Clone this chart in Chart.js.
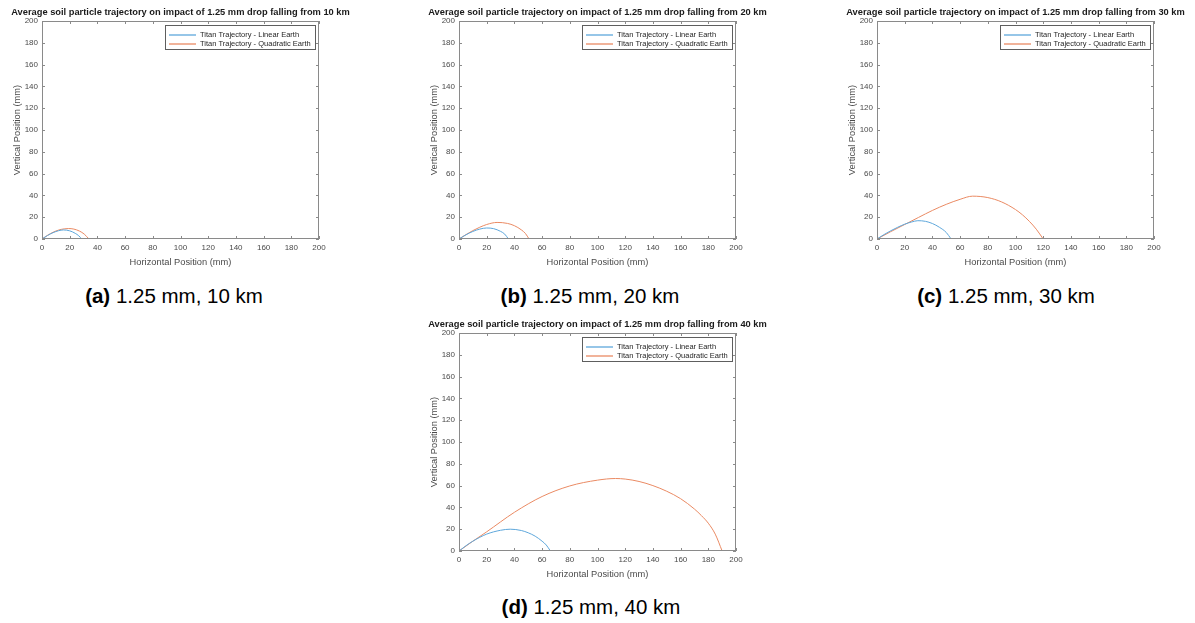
<!DOCTYPE html>
<html>
<head>
<meta charset="utf-8">
<script src="https://cdn.jsdelivr.net/npm/chart.js@4.4.1/dist/chart.umd.min.js"></script>
<style>
  html, body { margin: 0; padding: 0; background: #fff; overflow: hidden; }
  body { width: 1195px; height: 623px; position: relative; font-family: "Liberation Sans", Arial, sans-serif; }
  canvas { position: absolute; }
  .caption { position: absolute; font-size: 20.5px; line-height: 1; color: #000; white-space: nowrap; transform: translate(-50%, -50%); }
</style>
</head>
<body>
<canvas id="p10" width="361" height="275" style="left:0px;top:0px"></canvas>
<canvas id="p20" width="361" height="275" style="left:417px;top:0px"></canvas>
<canvas id="p30" width="361" height="275" style="left:835px;top:0px"></canvas>
<canvas id="p40" width="361" height="275" style="left:417px;top:312px"></canvas>
<div class="caption" style="left:174px;top:296px"><b>(a)</b> 1.25 mm, 10 km</div>
<div class="caption" style="left:590px;top:296px"><b>(b)</b> 1.25 mm, 20 km</div>
<div class="caption" style="left:1006px;top:296px"><b>(c)</b> 1.25 mm, 30 km</div>
<div class="caption" style="left:591px;top:607px"><b>(d)</b> 1.25 mm, 40 km</div>
<script>
// trajectories in mm, one pair of arrays per drop height
const linX10 = [0, 4, 8, 12, 15.5, 20, 24, 26.5, 28.7];
const linY10 = [0, 3.2, 5.8, 7.6, 8.3, 7.5, 5.2, 3, 0];
const quadX10 = [0, 4, 8, 12, 16, 19, 23, 27, 30.5, 33.9];
const quadY10 = [0, 3.4, 6.2, 8.2, 9.3, 9.6, 9.1, 7.3, 4.5, 0];

const linX20 = [0, 5, 10, 15, 20, 25, 30, 33, 35.7];
const linY20 = [0, 3.8, 6.9, 9.1, 10.1, 9.5, 7, 4.5, 0];
const quadX20 = [0, 5, 10, 15, 20, 27.5, 35, 40, 45, 48, 50.6];
const quadY20 = [0, 4, 7.7, 10.8, 13.3, 15.2, 14.3, 12.2, 8.4, 5, 0];

const linX30 = [0, 5, 10, 15, 20, 25, 29.5, 35, 40, 45, 50, 53.5];
const linY30 = [0, 4, 7.6, 10.8, 13.6, 15.6, 16.8, 16.2, 14.2, 10.8, 6, 0];
const quadX30 = [0, 10, 20, 30, 40, 50, 60, 69, 80, 90, 100, 105, 110, 115, 120];
const quadY30 = [0, 6.8, 13.3, 19.8, 26.2, 31.8, 36.4, 39.3, 38, 34, 27, 22.2, 16.2, 9, 0];

const linX40 = [0, 5, 10, 20, 30, 37, 45, 50, 55, 60, 63, 66];
const linY40 = [0, 4.8, 9, 15.5, 19, 20, 18.8, 16.7, 13.6, 9, 5.5, 0];
const quadX40 = [0, 10, 20, 40, 60, 80, 100, 113, 120, 130, 140, 150, 160, 170, 175, 180, 185, 190];
const quadY40 = [0, 9, 17.6, 35.5, 50, 59.7, 65, 66.5, 66, 63.8, 60, 54.8, 48, 38.5, 32.5, 25.5, 15.5, 0];

const seriesNames = ["Titan Trajectory - Linear Earth", "Titan Trajectory - Quadratic Earth"];
const seriesColors = ["#5ea7db", "#ea8a63"];
const axisTicks = [0, 20, 40, 60, 80, 100, 120, 140, 160, 180, 200];

const FONT = "'Liberation Sans', Arial, sans-serif";

function pairs(xs, ys) {
  return xs.map((x, i) => ({ x: x, y: ys[i] }));
}

// box, inward ticks, title and in-axes legend, drawn like a MATLAB figure
const matlabAxes = {
  id: "matlabAxes",
  afterDraw(chart, args, opts) {
    const { ctx, chartArea: a, scales } = chart;
    ctx.save();
    ctx.strokeStyle = "#8a8a8a";
    ctx.lineWidth = 1;
    ctx.strokeRect(a.left + 0.5, a.top + 0.5, a.right - a.left - 1, a.bottom - a.top - 1);

    ctx.beginPath();
    scales.x.ticks.forEach((t) => {
      const px = Math.round(scales.x.getPixelForValue(t.value)) + 0.5;
      ctx.moveTo(px, a.bottom); ctx.lineTo(px, a.bottom - 3);
      ctx.moveTo(px, a.top); ctx.lineTo(px, a.top + 3);
    });
    scales.y.ticks.forEach((t) => {
      const py = Math.round(scales.y.getPixelForValue(t.value)) + 0.5;
      ctx.moveTo(a.left, py); ctx.lineTo(a.left + 3, py);
      ctx.moveTo(a.right, py); ctx.lineTo(a.right - 3, py);
    });
    ctx.stroke();

    // title centred on the axes
    ctx.fillStyle = "#1a1a1a";
    ctx.font = "bold 9.3px " + FONT;
    ctx.textAlign = "center";
    ctx.textBaseline = "middle";
    ctx.fillText(opts.text, (a.left + a.right) / 2, 12);

    // legend in the north-east corner
    ctx.font = "7.5px " + FONT;
    const textW = Math.max(...chart.data.datasets.map((d) => ctx.measureText(d.label).width));
    const w = Math.round(35 + textW + 4);
    const h = 24;
    const bx = a.right - 4 - w;
    const by = a.top + 4;
    ctx.fillStyle = "#fff";
    ctx.fillRect(bx, by, w, h);
    ctx.strokeStyle = "#5e5e5e";
    ctx.strokeRect(bx + 0.5, by + 0.5, w, h);
    ctx.textAlign = "left";
    chart.data.datasets.forEach((d, i) => {
      const ry = by + 10 + i * 9;
      ctx.strokeStyle = d.borderColor;
      ctx.lineWidth = 1.3;
      ctx.beginPath();
      ctx.moveTo(bx + 4, ry); ctx.lineTo(bx + 31, ry);
      ctx.stroke();
      ctx.fillStyle = "#262626";
      ctx.fillText(d.label, bx + 35, ry);
    });
    ctx.restore();
  },
};

function trajectoryChart(id, km, lin, quad) {
  const config = {
    type: "scatter",
    data: {
      datasets: [
        { label: seriesNames[0], data: pairs(lin[0], lin[1]), borderColor: seriesColors[0] },
        { label: seriesNames[1], data: pairs(quad[0], quad[1]), borderColor: seriesColors[1] },
      ],
    },
    options: {
      responsive: false,
      animation: false,
      showLine: true,
      cubicInterpolationMode: "monotone",
      elements: {
        point: { radius: 0, hoverRadius: 0 },
        line: { borderWidth: 1, fill: false },
      },
      layout: { padding: { top: 21, right: 42, left: 0, bottom: 0 } },
      plugins: {
        legend: { display: false },
        title: { display: false },
        tooltip: { enabled: false },
        matlabAxes: { text: "Average soil particle trajectory on impact of 1.25 mm drop falling from " + km + " km" },
      },
      scales: {
        x: {
          type: "linear",
          min: 0,
          max: 200,
          afterFit: (s) => { s.height = 36; },
          afterBuildTicks: (s) => { s.ticks = axisTicks.map((v) => ({ value: v })); },
          grid: { display: false, drawTicks: false },
          border: { display: false },
          ticks: { padding: 4, color: "#4a4a4a", font: { family: FONT, size: 8 } },
          title: {
            display: true,
            text: "Horizontal Position (mm)",
            color: "#4a4a4a",
            font: { family: FONT, size: 9.3 },
            padding: { top: 0, bottom: 7.4 },
          },
        },
        y: {
          type: "linear",
          min: 0,
          max: 200,
          afterFit: (s) => { s.width = 42; },
          afterBuildTicks: (s) => { s.ticks = axisTicks.map((v) => ({ value: v })); },
          grid: { display: false, drawTicks: false },
          border: { display: false },
          ticks: { padding: 4, color: "#4a4a4a", font: { family: FONT, size: 8 } },
          title: {
            display: true,
            text: "Vertical Position (mm)",
            color: "#4a4a4a",
            font: { family: FONT, size: 9.3 },
            padding: { top: 11.4, bottom: 0 },
          },
        },
      },
    },
    plugins: [matlabAxes],
  };
  return new Chart(document.getElementById(id), config);
}

trajectoryChart("p10", "10", [linX10, linY10], [quadX10, quadY10]);
trajectoryChart("p20", "20", [linX20, linY20], [quadX20, quadY20]);
trajectoryChart("p30", "30", [linX30, linY30], [quadX30, quadY30]);
trajectoryChart("p40", "40", [linX40, linY40], [quadX40, quadY40]);
</script>
</body>
</html>
